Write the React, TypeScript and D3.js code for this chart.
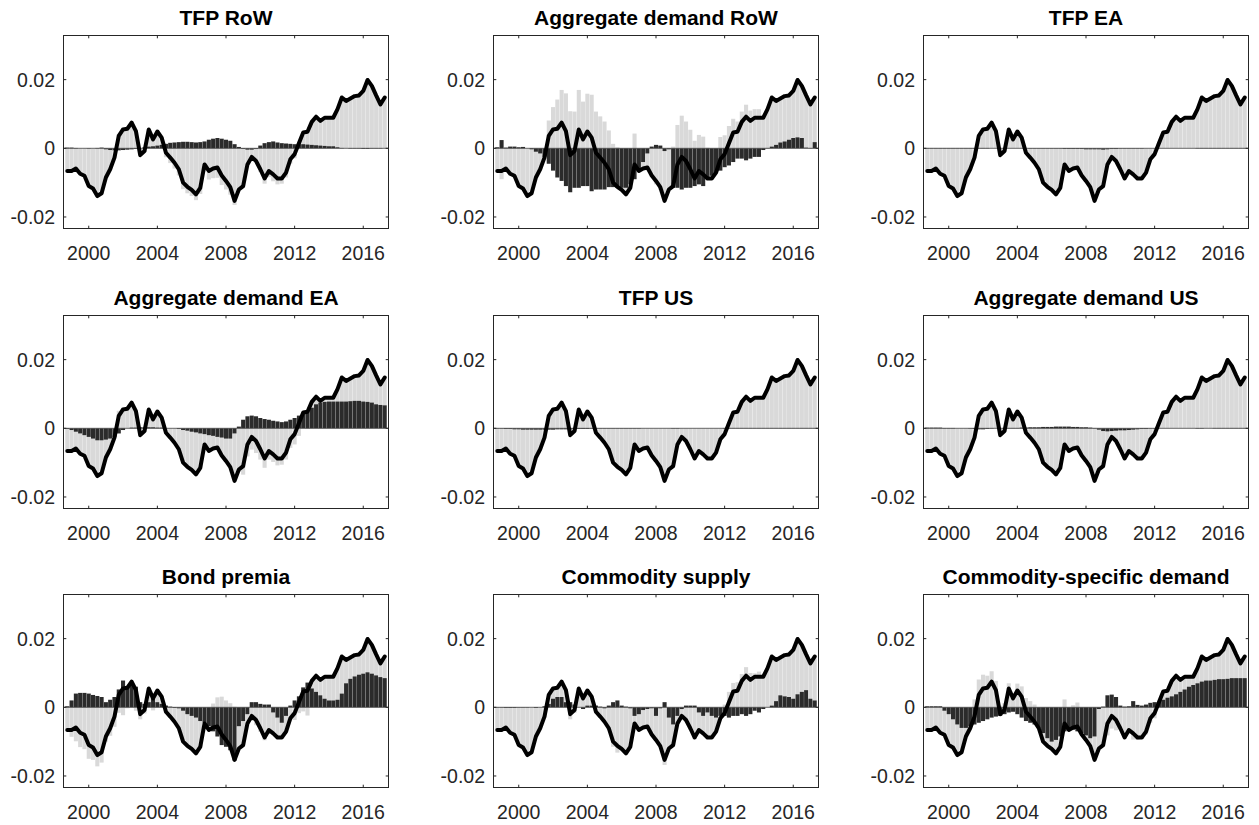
import React from "react";
import * as d3 from "d3";

// Quarterly dates 1998Q4 .. 2017Q2 (as decimal years, quarter start)
const QUARTERS: number[] = [
  1998.75,
  1999.0, 1999.25, 1999.5, 1999.75,
  2000.0, 2000.25, 2000.5, 2000.75,
  2001.0, 2001.25, 2001.5, 2001.75,
  2002.0, 2002.25, 2002.5, 2002.75,
  2003.0, 2003.25, 2003.5, 2003.75,
  2004.0, 2004.25, 2004.5, 2004.75,
  2005.0, 2005.25, 2005.5, 2005.75,
  2006.0, 2006.25, 2006.5, 2006.75,
  2007.0, 2007.25, 2007.5, 2007.75,
  2008.0, 2008.25, 2008.5, 2008.75,
  2009.0, 2009.25, 2009.5, 2009.75,
  2010.0, 2010.25, 2010.5, 2010.75,
  2011.0, 2011.25, 2011.5, 2011.75,
  2012.0, 2012.25, 2012.5, 2012.75,
  2013.0, 2013.25, 2013.5, 2013.75,
  2014.0, 2014.25, 2014.5, 2014.75,
  2015.0, 2015.25, 2015.5, 2015.75,
  2016.0, 2016.25, 2016.5, 2016.75,
  2017.0, 2017.25,
];

// Observed total (black line), same in every panel
const TOTAL: number[] = [
  -0.0066, -0.0066, -0.0059, -0.0074, -0.0080, -0.0110, -0.0117, -0.0139, -0.0131, -0.0085,
  -0.0061, -0.0027, 0.0036, 0.0055, 0.0057, 0.0075, 0.0050, -0.0020, -0.0008, 0.0055,
  0.0026, 0.0049, 0.0031, -0.0013, -0.0027, -0.0042, -0.0061, -0.0100, -0.0112, -0.0121,
  -0.0134, -0.0115, -0.0047, -0.0066, -0.0059, -0.0056, -0.0079, -0.0095, -0.0113, -0.0153,
  -0.0120, -0.0110, -0.0047, -0.0025, -0.0037, -0.0061, -0.0088, -0.0066, -0.0076, -0.0088,
  -0.0088, -0.0071, -0.0032, -0.0017, 0.0015, 0.0046, 0.0048, 0.0077, 0.0092, 0.0080,
  0.0089, 0.0089, 0.0089, 0.0114, 0.0148, 0.0138, 0.0145, 0.0152, 0.0154, 0.0167,
  0.0199, 0.0182, 0.0154, 0.0128, 0.0148,
];

// Contribution of each shock (dark bars)
const TFP_ROW: number[] = [
  0.0002, 0.0002, 0.0001, 0.0000, 0.0000, -0.0001, 0.0000, 0.0001, 0.0002, -0.0003,
  -0.0005, -0.0006, -0.0006, -0.0005, -0.0004, -0.0003, -0.0002, 0.0000, 0.0003, 0.0005,
  0.0006, 0.0008, 0.0010, 0.0013, 0.0016, 0.0017, 0.0018, 0.0019, 0.0019, 0.0018,
  0.0017, 0.0018, 0.0020, 0.0025, 0.0028, 0.0030, 0.0028, 0.0025, 0.0022, 0.0012,
  0.0004, -0.0002, -0.0004, -0.0004, -0.0002, 0.0008, 0.0015, 0.0018, 0.0020, 0.0017,
  0.0015, 0.0014, 0.0013, 0.0012, 0.0012, 0.0012, 0.0011, 0.0010, 0.0009, 0.0008,
  0.0007, 0.0006, 0.0006, 0.0003, 0.0001, 0.0000, -0.0001, -0.0001, -0.0001, -0.0002,
  -0.0002, -0.0001, -0.0001, -0.0001, 0.0000,
];

const AD_ROW: number[] = [
  0.0003, 0.0024, 0.0002, 0.0005, 0.0005, 0.0003, 0.0004, 0.0000, -0.0003, -0.0010,
  -0.0015, -0.0025, -0.0045, -0.0065, -0.0085, -0.0095, -0.0110, -0.0128, -0.0115, -0.0115,
  -0.0110, -0.0110, -0.0125, -0.0120, -0.0120, -0.0120, -0.0113, -0.0113, -0.0115, -0.0115,
  -0.0115, -0.0105, -0.0090, -0.0065, -0.0040, -0.0015, 0.0005, 0.0010, 0.0008, -0.0008,
  -0.0003, -0.0115, -0.0115, -0.0120, -0.0115, -0.0115, -0.0110, -0.0105, -0.0110, -0.0090,
  -0.0080, -0.0070, -0.0065, -0.0055, -0.0050, -0.0040, -0.0030, -0.0030, -0.0035, -0.0030,
  -0.0025, -0.0025, -0.0005, 0.0001, 0.0005, 0.0010, 0.0017, 0.0020, 0.0025, 0.0030,
  0.0032, 0.0030, 0.0002, 0.0001, 0.0018,
];

const TFP_EA: number[] = [
  0.0001, 0.0001, 0.0001, 0.0001, 0.0001, 0.0001, 0.0001, 0.0001, 0.0001, 0.0001,
  0.0001, 0.0001, 0.0001, 0.0001, 0.0001, 0.0000, 0.0000, 0.0000, 0.0000, 0.0000,
  0.0000, 0.0000, 0.0000, 0.0000, -0.0001, -0.0001, -0.0001, -0.0001, -0.0001, -0.0001,
  -0.0001, -0.0001, -0.0002, -0.0002, -0.0002, -0.0002, -0.0002, -0.0003, -0.0003, -0.0003,
  -0.0003, -0.0004, -0.0003, -0.0002, -0.0002, -0.0001, -0.0001, -0.0001, -0.0001, -0.0001,
  -0.0001, 0.0000, 0.0000, 0.0000, 0.0000, 0.0000, 0.0000, 0.0000, 0.0000, 0.0000,
  0.0000, 0.0000, 0.0000, 0.0001, 0.0001, 0.0001, 0.0001, 0.0001, 0.0001, 0.0001,
  0.0001, 0.0001, 0.0001, 0.0001, 0.0001,
];

const AD_EA: number[] = [
  -0.0002, -0.0005, -0.0010, -0.0015, -0.0020, -0.0025, -0.0030, -0.0035, -0.0035, -0.0033,
  -0.0030, -0.0025, -0.0015, -0.0005, 0.0000, 0.0002, 0.0002, 0.0003, 0.0003, 0.0003,
  0.0003, 0.0002, 0.0002, 0.0000, 0.0000, 0.0000, -0.0002, -0.0005, -0.0007, -0.0010,
  -0.0012, -0.0015, -0.0017, -0.0020, -0.0022, -0.0025, -0.0027, -0.0030, -0.0030, -0.0015,
  0.0005, 0.0025, 0.0035, 0.0037, 0.0035, 0.0030, 0.0027, 0.0025, 0.0022, 0.0020,
  0.0018, 0.0020, 0.0025, 0.0030, 0.0037, 0.0045, 0.0050, 0.0060, 0.0070, 0.0075,
  0.0077, 0.0078, 0.0078, 0.0078, 0.0078, 0.0078, 0.0079, 0.0080, 0.0080, 0.0078,
  0.0077, 0.0075, 0.0070, 0.0068, 0.0067,
];

const TFP_US: number[] = [
  -0.0001, -0.0001, -0.0002, -0.0002, -0.0003, -0.0003, -0.0004, -0.0004, -0.0004, -0.0004,
  -0.0004, -0.0004, -0.0004, -0.0004, -0.0003, -0.0003, -0.0003, -0.0003, -0.0002, -0.0002,
  -0.0002, -0.0002, -0.0001, -0.0001, -0.0001, -0.0001, -0.0001, -0.0001, -0.0001, -0.0001,
  -0.0001, -0.0001, -0.0001, -0.0001, 0.0000, 0.0000, 0.0000, 0.0000, 0.0000, 0.0000,
  0.0000, -0.0001, -0.0001, 0.0000, 0.0000, 0.0000, 0.0000, 0.0000, 0.0000, 0.0000,
  0.0000, 0.0000, 0.0000, 0.0001, 0.0001, 0.0001, 0.0001, 0.0001, 0.0001, 0.0001,
  0.0001, 0.0001, 0.0001, 0.0001, 0.0001, 0.0001, 0.0001, 0.0001, 0.0001, 0.0001,
  0.0001, 0.0001, 0.0001, 0.0001, 0.0001,
];

const AD_US: number[] = [
  0.0002, 0.0002, 0.0002, 0.0002, 0.0001, 0.0001, 0.0001, 0.0000, 0.0000, 0.0000,
  -0.0001, -0.0002, -0.0003, -0.0003, -0.0002, -0.0001, 0.0000, 0.0000, 0.0001, 0.0001,
  0.0001, 0.0001, 0.0002, 0.0002, 0.0003, 0.0003, 0.0003, 0.0004, 0.0004, 0.0004,
  0.0005, 0.0005, 0.0005, 0.0005, 0.0004, 0.0004, 0.0003, 0.0003, 0.0002, 0.0001,
  -0.0004, -0.0008, -0.0009, -0.0008, -0.0007, -0.0006, -0.0006, -0.0005, -0.0004, -0.0003,
  -0.0002, -0.0002, -0.0001, -0.0001, 0.0000, 0.0000, 0.0000, 0.0000, 0.0000, 0.0000,
  0.0000, 0.0000, 0.0000, -0.0001, -0.0001, 0.0000, 0.0000, 0.0001, 0.0001, 0.0001,
  0.0001, 0.0001, 0.0001, 0.0001, 0.0001,
];

const BOND_PREMIA: number[] = [
  0.0003, 0.0020, 0.0040, 0.0042, 0.0042, 0.0040, 0.0036, 0.0033, 0.0030, 0.0015,
  0.0022, 0.0030, 0.0052, 0.0078, 0.0060, 0.0065, 0.0060, 0.0015, 0.0010, 0.0015,
  0.0035, 0.0015, 0.0010, 0.0005, 0.0002, -0.0002, -0.0003, -0.0010, -0.0020, -0.0025,
  -0.0030, -0.0040, -0.0045, -0.0055, -0.0070, -0.0085, -0.0110, -0.0115, -0.0125, -0.0155,
  -0.0055, -0.0040, -0.0020, 0.0015, 0.0015, 0.0010, 0.0008, 0.0008, -0.0015, -0.0030,
  -0.0045, -0.0025, 0.0005, 0.0020, 0.0032, 0.0058, 0.0072, 0.0055, 0.0045, 0.0035,
  0.0025, 0.0020, 0.0020, 0.0022, 0.0040, 0.0070, 0.0083, 0.0090, 0.0095, 0.0098,
  0.0102, 0.0098, 0.0093, 0.0088, 0.0085,
];

const COMMODITY_SUPPLY: number[] = [
  -0.0001, -0.0001, -0.0002, -0.0002, -0.0002, -0.0001, -0.0001, -0.0001, 0.0000, -0.0002,
  0.0000, 0.0003, 0.0010, 0.0025, 0.0030, 0.0030, 0.0015, 0.0015, 0.0008, 0.0000,
  -0.0005, 0.0005, 0.0005, 0.0005, 0.0002, -0.0003, 0.0005, 0.0015, 0.0020, 0.0005,
  0.0002, -0.0003, -0.0025, -0.0020, -0.0008, -0.0005, -0.0003, -0.0025, -0.0003, 0.0015,
  -0.0030, -0.0050, -0.0025, -0.0005, 0.0005, 0.0005, 0.0005, -0.0015, -0.0025, -0.0015,
  -0.0025, -0.0030, -0.0025, -0.0025, -0.0030, -0.0025, -0.0025, -0.0020, -0.0025, -0.0020,
  -0.0010, -0.0015, -0.0005, 0.0000, 0.0005, 0.0018, 0.0035, 0.0032, 0.0030, 0.0025,
  0.0038, 0.0045, 0.0050, 0.0025, 0.0020,
];

const COMMODITY_DEMAND: number[] = [
  0.0003, 0.0003, 0.0003, 0.0003, -0.0010, -0.0020, -0.0035, -0.0050, -0.0060, -0.0060,
  -0.0055, -0.0050, -0.0045, -0.0040, -0.0035, -0.0030, -0.0027, -0.0025, -0.0020, -0.0015,
  -0.0013, -0.0020, -0.0030, -0.0040, -0.0045, -0.0050, -0.0060, -0.0075, -0.0090, -0.0100,
  -0.0095, -0.0085, -0.0070, -0.0065, -0.0065, -0.0070, -0.0075, -0.0082, -0.0090, -0.0085,
  -0.0005, 0.0002, 0.0035, 0.0037, 0.0030, 0.0005, 0.0002, 0.0003, 0.0018, 0.0007,
  0.0005, 0.0008, 0.0013, 0.0015, 0.0015, 0.0022, 0.0028, 0.0032, 0.0038, 0.0045,
  0.0052, 0.0060, 0.0065, 0.0070, 0.0075, 0.0078, 0.0078, 0.0080, 0.0082, 0.0082,
  0.0083, 0.0085, 0.0085, 0.0085, 0.0085,
];

const PANEL_TITLES: string[] = [
  "TFP RoW", "Aggregate demand RoW", "TFP EA",
  "Aggregate demand EA", "TFP US", "Aggregate demand US",
  "Bond premia", "Commodity supply", "Commodity-specific demand",
];
const PANEL_SERIES: number[][] = [
  TFP_ROW, AD_ROW, TFP_EA,
  AD_EA, TFP_US, AD_US,
  BOND_PREMIA, COMMODITY_SUPPLY, COMMODITY_DEMAND,
];

const X_TICKS: number[] = [2000, 2004, 2008, 2012, 2016];
const Y_TICKS: number[] = [-0.02, 0, 0.02];
const Y_TICK_LABELS: string[] = ["-0.02", "0", "0.02"];
const X_DOMAIN: [number, number] = [1998.5, 2017.5];
const Y_DOMAIN: [number, number] = [-0.0235, 0.033];

// layout
const COL_LEFT = [63, 493, 923];
const ROW_TOP = [35, 315, 594];
const PW = 326;
const PH = 194;
const FONT = "'Liberation Sans', Arial, Helvetica, sans-serif";
const DARK = "#2b2b2b";
const LIGHT = "#d9d9d9";
const AXIS = "#262626";

function Panel({ title, contrib, left, top }: { title: string; contrib: number[]; left: number; top: number }) {
  const x = d3.scaleLinear().domain(X_DOMAIN).range([0, PW]);
  const y = d3.scaleLinear().domain(Y_DOMAIN).range([PH, 0]);
  const step = x(QUARTERS[1]) - x(QUARTERS[0]);
  const bw = step * 0.95;

  // stacked table: dark (shock) first, then the remaining shocks (light)
  const rows = QUARTERS.map((q, i) => {
    const d = contrib[i];
    const l = TOTAL[i] - d;
    let d0 = 0, d1 = d, l0 = 0, l1 = l;
    if (d >= 0 && l >= 0) { l0 = d; l1 = d + l; }
    else if (d < 0 && l < 0) { l0 = d; l1 = d + l; }
    return { q, d0, d1, l0, l1 };
  });

  const line = d3.line<number>().x((_, i) => x(QUARTERS[i])).y((v) => y(v));
  const tl = 3.3;

  return (
    <g transform={`translate(${left},${top})`}>
      <text x={PW / 2} y={-10} textAnchor="middle" fontFamily={FONT} fontWeight="bold" fontSize={21} fill="#000">
        {title}
      </text>
      <rect x={0} y={0} width={PW} height={PH} fill="#fff" />
      {rows.map((r, i) => (
        <g key={i}>
          <rect x={x(r.q) - bw / 2} width={bw} y={y(Math.max(r.l0, r.l1))} height={Math.abs(y(r.l0) - y(r.l1))} fill={LIGHT} />
          <rect x={x(r.q) - bw / 2} width={bw} y={y(Math.max(r.d0, r.d1))} height={Math.abs(y(r.d0) - y(r.d1))} fill={DARK} />
        </g>
      ))}
      <line x1={0} x2={PW} y1={y(0)} y2={y(0)} stroke="#444" strokeWidth={0.8} />
      <path d={line(TOTAL) || ""} fill="none" stroke="#000" strokeWidth={4} strokeLinejoin="round" strokeLinecap="round" />
      {/* box */}
      <rect x={0.5} y={0.5} width={PW - 1} height={PH - 1} fill="none" stroke={AXIS} strokeWidth={1} />
      {X_TICKS.map((t) => (
        <g key={t}>
          <line x1={x(t)} x2={x(t)} y1={PH} y2={PH - tl} stroke={AXIS} />
          <line x1={x(t)} x2={x(t)} y1={0} y2={tl} stroke={AXIS} />
          <text x={x(t)} y={PH + 31} textAnchor="middle" fontFamily={FONT} fontSize={19.5} fill={AXIS}>
            {t}
          </text>
        </g>
      ))}
      {Y_TICKS.map((t, k) => (
        <g key={k}>
          <line x1={0} x2={tl} y1={y(t)} y2={y(t)} stroke={AXIS} />
          <line x1={PW} x2={PW - tl} y1={y(t)} y2={y(t)} stroke={AXIS} />
          <text x={-8} y={y(t)} dy="0.36em" textAnchor="end" fontFamily={FONT} fontSize={19.5} fill={AXIS}>
            {Y_TICK_LABELS[k]}
          </text>
        </g>
      ))}
    </g>
  );
}

export default function App() {
  return (
    <svg width={1259} height={825} style={{ position: "absolute", left: 0, top: 0, background: "#fff" }}>
      <rect width={1259} height={825} fill="#fff" />
      {PANEL_TITLES.map((t, i) => (
        <Panel key={t} title={t} contrib={PANEL_SERIES[i]} left={COL_LEFT[i % 3]} top={ROW_TOP[Math.floor(i / 3)]} />
      ))}
    </svg>
  );
}
